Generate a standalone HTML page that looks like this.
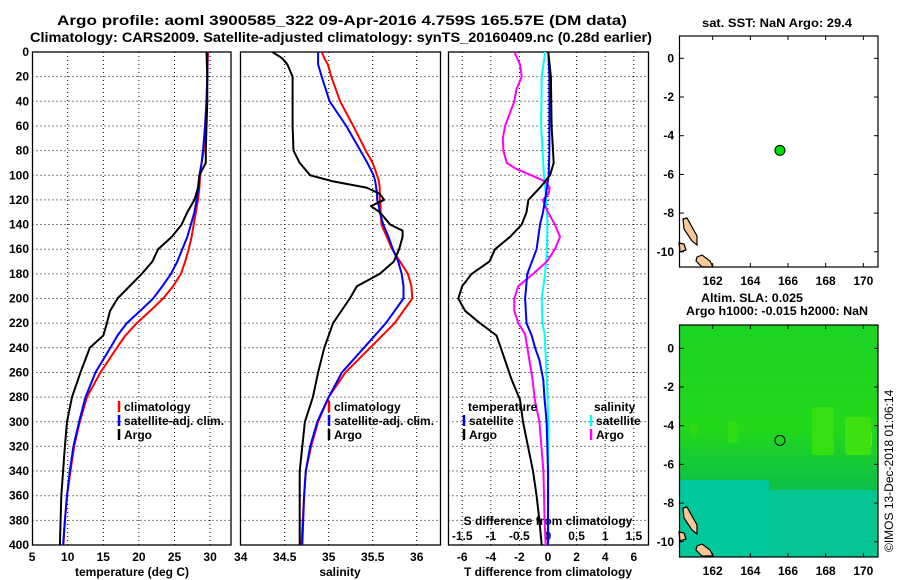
<!DOCTYPE html>
<html><head><meta charset="utf-8">
<style>
html,body{margin:0;padding:0;background:#fff;}
svg{display:block;font-family:"Liberation Sans",sans-serif;font-weight:bold;}
text{fill:#000;}
</style></head>
<body>
<svg id="fig" width="900" height="580" viewBox="0 0 900 580" xmlns="http://www.w3.org/2000/svg">
<defs>
<linearGradient id="gGreen" x1="0" y1="0" x2="0" y2="1">
<stop offset="0" stop-color="#1cd424"/><stop offset="0.45" stop-color="#22d81c"/><stop offset="0.7" stop-color="#0cc048"/><stop offset="1" stop-color="#08bc70"/>
</linearGradient>
</defs>
<text x="342" y="25" font-size="14" text-anchor="middle" textLength="570" lengthAdjust="spacingAndGlyphs">Argo profile: aoml 3900585_322 09-Apr-2016 4.759S 165.57E (DM data)</text>
<text x="341" y="42" font-size="14" text-anchor="middle" textLength="622" lengthAdjust="spacingAndGlyphs">Climatology: CARS2009. Satellite-adjusted climatology: synTS_20160409.nc (0.28d earlier)</text>
<g id="p1"></g>
<g id="p2"></g>
<g id="p3"></g>
<g id="m1"></g>
<g id="m2"></g>
<text x="777" y="27" font-size="12" text-anchor="middle" textLength="150" lengthAdjust="spacingAndGlyphs">sat. SST: NaN Argo: 29.4</text>
<text x="752" y="302" font-size="12" text-anchor="middle" textLength="102" lengthAdjust="spacingAndGlyphs">Altim. SLA: 0.025</text>
<text x="777" y="315" font-size="12" text-anchor="middle" textLength="182" lengthAdjust="spacingAndGlyphs">Argo h1000: -0.015 h2000: NaN</text>
<text x="0" y="0" font-size="12" font-weight="normal" transform="translate(893,552) rotate(-90)">©IMOS 13-Dec-2018 01:06:14</text>
</svg>
<script>
// ---- data ----
const tempDepths = [0,20,40,60,80,90,100,110,120,130,140,150,160,170,180,190,200,210,220,230,240,260,280,300,320,340,360,380,400];
const tempArgo = [29.5,29.6,29.6,29.5,29.4,29.4,28.5,28.3,27.8,26.8,26.0,24.6,22.7,21.9,20.4,18.7,17.0,15.95,15.5,15.0,13.1,11.8,10.6,9.9,9.6,9.35,9.1,9.0,8.9];
const tempSat = [29.6,29.6,29.5,29.3,29.0,28.8,28.5,28.4,28.1,27.8,27.3,26.8,26.1,25.4,24.5,23.3,22.0,20.2,18.3,17.0,16.0,13.9,12.5,11.6,10.8,10.3,9.9,9.6,9.35];
const tempClim = [29.7,29.6,29.5,29.3,29.1,28.8,28.6,28.5,28.3,28.0,27.7,27.4,27.0,26.5,25.9,24.8,23.4,21.6,19.7,18.1,16.9,14.6,12.7,11.7,10.9,10.4,9.9,9.6,9.4];
const salDepths = [0,5,10,15,20,40,60,80,90,100,105,110,115,120,125,130,140,145,150,160,170,180,190,200,220,240,260,280,300,320,340,360,400];
const salArgo = [34.36,34.47,34.53,34.56,34.59,34.59,34.59,34.6,34.67,34.79,35.05,35.43,35.58,35.63,35.48,35.58,35.70,35.84,35.84,35.8,35.74,35.58,35.32,35.24,35.05,34.95,34.88,34.82,34.73,34.70,34.67,34.67,34.67];
const salClim = [34.92,34.95,34.99,35.01,35.03,35.13,35.28,35.42,35.5,35.55,35.57,35.58,35.58,35.58,35.59,35.59,35.6,35.63,35.66,35.72,35.81,35.9,35.94,35.95,35.75,35.47,35.19,35.0,34.88,34.8,34.74,34.72,34.69];
const salSat = [34.88,34.88,34.88,34.9,34.92,35.01,35.2,35.36,35.44,35.51,35.53,35.54,35.55,35.55,35.57,35.58,35.62,35.65,35.68,35.73,35.79,35.83,35.85,35.85,35.65,35.4,35.15,35.0,34.87,34.79,34.74,34.72,34.7];
const tdArgoDepths = [0,20,60,80,90,100,105,110,120,130,140,150,160,170,180,190,200,210,220,230,240,266,282,300,340,360,380,400];
const tdArgo = [0.02,0.2,0.25,0.35,0.4,0.14,-0.2,-0.56,-1.37,-1.5,-1.84,-2.66,-3.7,-4.1,-5.34,-6.0,-6.27,-5.8,-4.76,-3.6,-3.3,-2.54,-1.96,-1.75,-1.05,-0.8,-0.6,-0.44];
const tdSatDepths = [0,20,80,100,120,130,140,160,180,200,220,230,240,250,266,280,300,320,340,400];
const tdSat = [0.02,0.1,0.1,0.05,-0.2,-0.35,-0.56,-0.8,-1.45,-1.6,-1.5,-1.14,-0.9,-0.6,-0.33,-0.25,-0.1,-0.05,0,0];
const sdArgoDepths = [0,10,20,30,40,60,70,80,90,95,100,105,110,115,120,125,130,140,150,160,170,180,190,200,210,220,229,266,282,300,340,380,400];
const sdArgo = [-0.59,-0.49,-0.46,-0.55,-0.59,-0.75,-0.79,-0.78,-0.72,-0.55,-0.29,-0.05,0.03,0.01,-0.09,-0.05,0.0,0.12,0.21,0.12,-0.02,-0.26,-0.52,-0.59,-0.59,-0.52,-0.4,-0.27,-0.23,-0.15,-0.08,-0.06,-0.04];
const sdSatDepths = [0,20,60,100,120,140,160,180,200,220,229,266,300,400];
const sdSat = [-0.05,-0.11,-0.12,-0.07,-0.03,-0.01,-0.02,-0.05,-0.11,-0.1,-0.06,-0.02,0.005,0.005];
const depthTicks = [0,20,40,60,80,100,120,140,160,180,200,220,240,260,280,300,320,340,360,380,400];
const tempTicks = [5,10,15,20,25,30];
const salTicks = [34,34.5,35,35.5,36];
const tdTicks = [-6,-4,-2,0,2,4,6];
const sdTicks = [-1.5,-1,-0.5,0,0.5,1,1.5];
const lonTicks = [162,164,166,168,170];
const latTicks = [0,-2,-4,-6,-8,-10];
const argoLon = [165.57];
const argoLat = [-4.759];

const NS='http://www.w3.org/2000/svg';
function mk(tag, attrs, parent){const e=document.createElementNS(NS,tag);for(const k in attrs)e.setAttribute(k,attrs[k]);parent.appendChild(e);return e;}
const TOP=52, BOT=545;
const yD = d => TOP + d*(BOT-TOP)/400;

function frame(g,x0,x1,y0,y1,xt,xs,name){
  xt.forEach(v=>{const x=xs(v); if(x>x0+1&&x<x1-1){const l=mk('line',{x1:x,x2:x,y1:y0,y2:y1,stroke:'#000','stroke-width':1,'stroke-dasharray':'1,3'},g);
    
    }});
  depthTicks.forEach(d=>{const y=yD(d); if(y>y0+1&&y<y1-1){const l=mk('line',{x1:x0,x2:x1,y1:y,y2:y,stroke:'#000','stroke-width':1,'stroke-dasharray':'1,3'},g);
    
    }});
  const r=mk('rect',{x:x0,y:y0,width:x1-x0,height:y1-y0,fill:'none',stroke:'#000','stroke-width':1.3},g);
  
  
}
function series(g,xs,depths,vals,color,w,name){
  let d='';vals.forEach((v,i)=>{d+=(i?'L':'M')+xs(v).toFixed(1)+','+yD(depths[i]).toFixed(1);});
  const p=mk('path',{d:d,fill:'none',stroke:color,'stroke-width':w,'stroke-linejoin':'round'},g);
  
  
}
function label(g,x,y,txt,size,anchor,name){const t=mk('text',{x:x,y:y,'font-size':size,'text-anchor':anchor||'start'},g);t.textContent=txt;
  
  return t;}
function legend(g,x,y,color,txt,name){
  const l=mk('line',{x1:x,x2:x,y1:y-10,y2:y+1,stroke:color,'stroke-width':2.5},g);
  
  
  label(g,x+5,y,txt,12,'start',name);
}

// Panel 1: temperature
const p1=document.getElementById('p1');
const xT = t => 32.1 + (t-5)*7.12;
frame(p1,32.5,231,TOP,BOT,tempTicks,xT,'temperature');
depthTicks.forEach(d=>label(p1,29,yD(d)+4,String(d),12,'end','depth-tick-label'));
tempTicks.forEach(t=>label(p1,xT(t),561,String(t),12,'middle','temperature-tick-label'));
label(p1,132,576,'temperature (deg C)',12,'middle','temperature-axis-title');
series(p1,xT,tempDepths,tempClim,'#ff0000',2,'temperature-climatology-line');
series(p1,xT,tempDepths,tempSat,'#0000ff',2,'temperature-satellite-line');
series(p1,xT,tempDepths,tempArgo,'#000000',2,'temperature-argo-line');
legend(p1,119,411,'#ff0000','climatology','temp-legend-climatology');
legend(p1,119,425,'#0000ff','satellite-adj. clim.','temp-legend-satellite');
legend(p1,119,439,'#000000','Argo','temp-legend-argo');

// Panel 2: salinity
const p2=document.getElementById('p2');
const xS = s => 240.7 + (s-34)*88;
frame(p2,240.5,440.5,TOP,BOT,salTicks,xS,'salinity');
salTicks.forEach(s=>label(p2,xS(s),561,String(s),12,'middle','salinity-tick-label'));
label(p2,340,576,'salinity',12,'middle','salinity-axis-title');
series(p2,xS,salDepths,salClim,'#ff0000',2,'salinity-climatology-line');
series(p2,xS,salDepths,salSat,'#0000ff',2,'salinity-satellite-line');
series(p2,xS,salDepths,salArgo,'#000000',2,'salinity-argo-line');
legend(p2,329,411,'#ff0000','climatology','sal-legend-climatology');
legend(p2,329,425,'#0000ff','satellite-adj. clim.','sal-legend-satellite');
legend(p2,329,439,'#000000','Argo','sal-legend-argo');

// Panel 3: differences
const p3=document.getElementById('p3');
const xTD = v => 548 + v*14.3;
const xSD = v => 548 + v*57.2;
frame(p3,448.5,648.5,TOP,BOT,tdTicks,xTD,'difference');
tdTicks.forEach(t=>label(p3,xTD(t),561,String(t),12,'middle','t-diff-tick-label'));
sdTicks.forEach(s=>label(p3,xSD(s),540,String(s),12,'middle','s-diff-tick-label'));
label(p3,548,525,'S difference from climatology',12,'middle','s-diff-axis-title');
label(p3,548,576,'T difference from climatology',12,'middle','t-diff-axis-title');
series(p3,xSD,sdSatDepths,sdSat,'#00ffff',2,'s-diff-satellite-line');
series(p3,xSD,sdArgoDepths,sdArgo,'#ff00ff',2,'s-diff-argo-line');
series(p3,xTD,tdSatDepths,tdSat,'#0000ff',2,'t-diff-satellite-line');
series(p3,xTD,tdArgoDepths,tdArgo,'#000000',2,'t-diff-argo-line');
label(p3,468,411,'temperature',12,'start','t-legend-title');
legend(p3,464,425,'#0000ff','satellite','t-legend-satellite');
legend(p3,464,439,'#000000','Argo','t-legend-argo');
label(p3,594,411,'salinity',12,'start','s-legend-title');
legend(p3,591,425,'#00ffff','satellite','s-legend-satellite');
legend(p3,591,439,'#ff00ff','Argo','s-legend-argo');

// Maps
const xLon = lon => 712.7 + (lon-162)*18.83;
function drawMap(g,y0,y1,lat0y,name,bg){
  const yLat = lat => lat0y - lat*19.35;
  if(bg){
    const base=mk('rect',{x:679,y:y0,width:199,height:y1-y0,fill:'url(#gGreen)'},g);
    
    
    const bgs=[['#00c89c',679,y0+155,90,y1-y0-155],['#04c494',769,y0+165,109,y1-y0-165],['#2ed814',690,y0+98,8,14],['#30dc14',728,y0+96,10,22],['#34e010',812,y0+82,22,48],['#66e80a',858,y0+105,14,18],['#40e010',845,y0+92,26,38]];
    bgs.forEach(b=>{const r=mk('rect',{x:b[1],y:b[2],width:b[3],height:b[4],fill:b[0],rx:3},g);
      
      });
  }
  const lands=[[[683,y0+183],[687,y0+182],[697,y0+200],[697,y0+209],[692,y0+205],[684,y0+193]],
    [[679,y0+207],[684,y0+208],[686,y0+214],[680,y0+216]],
    [[697,y0+221],[702,y0+219],[710,y0+225],[713,y0+231],[702,y0+231],[696,y0+225]]];
  lands.forEach(pts=>{const p=mk('polygon',{points:pts.map(q=>q.join(',')).join(' '),fill:'#f8c898',stroke:'#000','stroke-width':1.2},g);
    
    });
  const r=mk('rect',{x:679.5,y:y0,width:198.5,height:y1-y0,fill:'none',stroke:'#000','stroke-width':1.2},g);
  
  
  lonTicks.forEach(lon=>{const x=xLon(lon);
    mk('line',{x1:x,x2:x,y1:y1,y2:y1-4,stroke:'#000'},g);mk('line',{x1:x,x2:x,y1:y0,y2:y0+4,stroke:'#000'},g);
    label(g,x,y1+18,String(lon),12,'middle',name+'-lon-label');});
  latTicks.forEach(lat=>{const y=yLat(lat);
    mk('line',{x1:679.5,x2:684,y1:y,y2:y,stroke:'#000'},g);mk('line',{x1:878,x2:874,y1:y,y2:y,stroke:'#000'},g);
    label(g,674,y+4,String(lat),12,'end',name+'-lat-label');});
  argoLon.forEach((lon,i)=>{const c=mk('circle',{cx:xLon(lon),cy:yLat(argoLat[i]),r:5,fill:bg?'none':'#00dd00',stroke:'#000','stroke-width':1},g);
    
    });
}
drawMap(document.getElementById('m1'),36,267,58.3,'sst-map',false);
drawMap(document.getElementById('m2'),325,557,348.3,'sla-map',true);
</script>
</body></html>
